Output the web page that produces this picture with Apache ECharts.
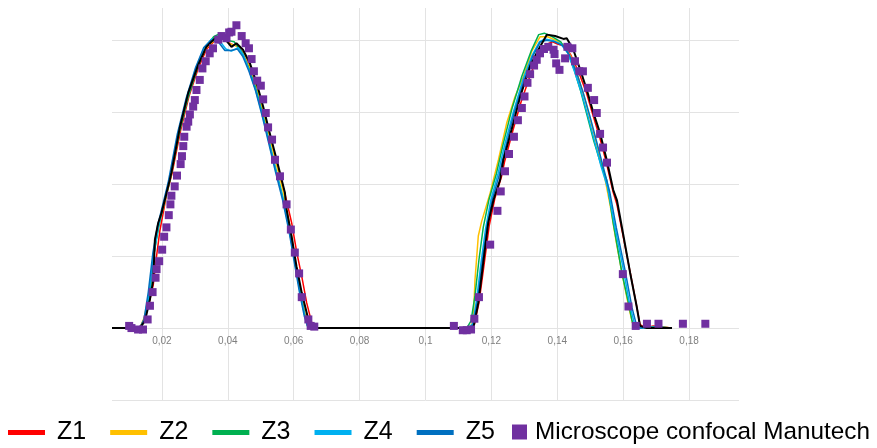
<!DOCTYPE html>
<html>
<head>
<meta charset="UTF-8">
<title>Profils</title>
<script src="https://cdn.jsdelivr.net/npm/echarts@6/dist/echarts.min.js"></script>
<style>
    html, body { margin: 0; padding: 0; background: #fff; }
    #main { width: 877px; height: 448px; }
</style>
</head>
<body>
<div id="main"></div>
<script>
// tick labels of the x axis
var xTicks = [0.02, 0.04, 0.06, 0.08, 0.1, 0.12, 0.14, 0.16, 0.18];

// profiles [x, height]
var z1 = [[0.005,0],[0.0134,0],[0.0145,0.1],[0.0160,0.3],[0.0175,0.6],[0.0185,1.0],[0.0195,1.35],[0.0205,1.6],[0.0215,1.85],[0.0232,2.15],[0.0258,2.75],[0.0283,3.22],[0.0312,3.62],[0.0337,3.88],[0.0362,4.0],[0.0387,4.02],[0.0410,3.95],[0.0430,3.92],[0.0449,3.82],[0.0470,3.6],[0.0490,3.35],[0.0510,3.02],[0.0530,2.65],[0.0550,2.28],[0.0575,1.85],[0.0595,1.45],[0.0610,1.05],[0.0625,0.72],[0.0640,0.35],[0.0655,0.08],[0.0665,0],[0.1135,0],[0.1148,0.05],[0.1162,0.35],[0.1178,0.9],[0.1193,1.42],[0.1210,1.8],[0.1230,2.1],[0.1240,2.32],[0.1265,2.75],[0.1290,3.15],[0.1320,3.55],[0.1345,3.8],[0.1370,3.95],[0.1385,3.98],[0.1400,3.95],[0.1420,3.92],[0.1440,3.8],[0.1465,3.55],[0.1487,3.28],[0.1508,2.95],[0.1528,2.65],[0.1548,2.3],[0.1568,1.9],[0.1580,1.72],[0.1600,1.25],[0.1620,0.78],[0.1638,0.35],[0.1650,0.05],[0.1665,0],[0.1690,0.03],[0.1747,0]];
var z2 = [[0.005,0],[0.0134,0],[0.0148,0.15],[0.0165,0.55],[0.0180,1.15],[0.0195,1.5],[0.0210,1.75],[0.0228,2.1],[0.0255,2.75],[0.0282,3.25],[0.0310,3.65],[0.0336,3.9],[0.0360,4.0],[0.0385,4.05],[0.0408,3.95],[0.0428,3.92],[0.0448,3.82],[0.0468,3.62],[0.0488,3.36],[0.0508,3.02],[0.0528,2.66],[0.0548,2.28],[0.0570,1.88],[0.0590,1.4],[0.0605,0.95],[0.0620,0.55],[0.0635,0.2],[0.0645,0.03],[0.0655,0],[0.1130,0],[0.1140,0.05],[0.1145,0.12],[0.1150,0.67],[0.1160,1.28],[0.1170,1.48],[0.1196,1.88],[0.1221,2.34],[0.1246,2.85],[0.1270,3.2],[0.1297,3.5],[0.1322,3.85],[0.1347,4.05],[0.1370,4.05],[0.1395,4.0],[0.1420,3.93],[0.1440,3.78],[0.1462,3.5],[0.1482,3.2],[0.1502,2.85],[0.1522,2.5],[0.1542,2.12],[0.1560,1.7],[0.1578,1.2],[0.1598,0.7],[0.1618,0.25],[0.1630,0.02],[0.1642,0],[0.1700,0.02],[0.1747,0]];
var z3 = [[0.005,0],[0.0134,0],[0.0150,0.12],[0.0165,0.5],[0.0178,1.05],[0.0192,1.42],[0.0206,1.7],[0.0225,2.05],[0.0254,2.72],[0.0280,3.2],[0.0309,3.62],[0.0334,3.9],[0.0358,4.05],[0.0380,4.1],[0.0400,4.0],[0.0420,3.98],[0.0442,3.85],[0.0464,3.62],[0.0484,3.36],[0.0504,3.02],[0.0524,2.64],[0.0544,2.25],[0.0566,1.85],[0.0586,1.4],[0.0602,0.98],[0.0617,0.58],[0.0632,0.22],[0.0642,0.03],[0.0652,0],[0.1125,0],[0.1138,0.1],[0.1150,0.45],[0.1162,0.95],[0.1175,1.4],[0.1192,1.78],[0.1215,2.15],[0.1235,2.55],[0.1262,3.05],[0.1292,3.5],[0.1320,3.85],[0.1343,4.08],[0.1360,4.1],[0.1385,4.05],[0.1410,3.98],[0.1432,3.82],[0.1450,3.6],[0.1470,3.3],[0.1490,2.95],[0.1510,2.6],[0.1530,2.3],[0.1549,2.06],[0.1569,1.46],[0.1595,0.77],[0.1615,0.35],[0.1625,0.12],[0.1632,0],[0.1700,0.02],[0.1747,0]];
var z4 = [[0.005,0],[0.0134,0],[0.0148,0.1],[0.0162,0.45],[0.0176,1.0],[0.0190,1.4],[0.0204,1.68],[0.0222,2.02],[0.0250,2.7],[0.0277,3.2],[0.0305,3.62],[0.0330,3.9],[0.0352,4.02],[0.0375,4.0],[0.0395,3.88],[0.0412,3.85],[0.0432,3.9],[0.0448,3.8],[0.0466,3.58],[0.0486,3.3],[0.0506,2.96],[0.0526,2.58],[0.0546,2.2],[0.0568,1.8],[0.0588,1.35],[0.0604,0.92],[0.0619,0.52],[0.0634,0.18],[0.0644,0.02],[0.0654,0],[0.1130,0],[0.1143,0.06],[0.1155,0.4],[0.1168,0.9],[0.1182,1.38],[0.1198,1.78],[0.1220,2.15],[0.1240,2.55],[0.1266,3.0],[0.1295,3.45],[0.1322,3.78],[0.1345,3.98],[0.1362,4.02],[0.1385,4.0],[0.1410,3.95],[0.1432,3.82],[0.1452,3.56],[0.1472,3.28],[0.1492,2.95],[0.1512,2.6],[0.1532,2.25],[0.1552,1.95],[0.1572,1.45],[0.1598,0.85],[0.1620,0.3],[0.1635,0.03],[0.1645,0],[0.1700,0.01],[0.1747,0]];
var z5 = [[0.005,0],[0.0134,0],[0.0147,0.12],[0.0160,0.5],[0.0174,1.05],[0.0188,1.42],[0.0202,1.68],[0.0220,2.02],[0.0248,2.7],[0.0275,3.2],[0.0303,3.62],[0.0328,3.9],[0.0350,4.0],[0.0372,3.98],[0.0392,3.86],[0.0410,3.86],[0.0430,3.88],[0.0446,3.78],[0.0465,3.57],[0.0485,3.3],[0.0505,2.95],[0.0525,2.57],[0.0545,2.18],[0.0567,1.78],[0.0587,1.33],[0.0603,0.9],[0.0618,0.5],[0.0633,0.16],[0.0643,0.02],[0.0653,0],[0.1132,0],[0.1145,0.05],[0.1158,0.4],[0.1172,0.92],[0.1186,1.4],[0.1202,1.78],[0.1223,2.12],[0.1243,2.52],[0.1268,2.98],[0.1297,3.42],[0.1325,3.78],[0.1348,3.98],[0.1368,4.0],[0.1392,3.98],[0.1415,3.93],[0.1436,3.8],[0.1458,3.55],[0.1478,3.27],[0.1498,2.95],[0.1518,2.6],[0.1538,2.25],[0.1558,1.9],[0.1578,1.4],[0.1604,0.82],[0.1626,0.28],[0.1640,0.03],[0.1652,0],[0.1700,0.01],[0.1747,0]];
// black profile (not in the legend)
var zRef = [[0.005,0],[0.0134,0],[0.0150,0.1],[0.0165,0.4],[0.0175,0.67],[0.0180,1.23],[0.0190,1.46],[0.0200,1.6],[0.0210,1.78],[0.0225,2.06],[0.0230,2.16],[0.0256,2.8],[0.0281,3.27],[0.0311,3.66],[0.0336,3.91],[0.0362,4.03],[0.0387,4.05],[0.0412,3.91],[0.0427,3.96],[0.0447,3.87],[0.0468,3.68],[0.0488,3.41],[0.0508,3.08],[0.0528,2.71],[0.0549,2.34],[0.0574,1.88],[0.0579,1.65],[0.0594,1.28],[0.0609,0.86],[0.0625,0.49],[0.0645,0.12],[0.0655,0],[0.1135,0],[0.1145,0],[0.1160,0.35],[0.1175,0.91],[0.1190,1.46],[0.1206,1.78],[0.1226,2.06],[0.1236,2.34],[0.1261,2.76],[0.1287,3.22],[0.1317,3.64],[0.1342,3.87],[0.1368,4.08],[0.1393,4.06],[0.1418,4.02],[0.1428,4.03],[0.1448,3.87],[0.1469,3.59],[0.1489,3.31],[0.1509,2.99],[0.1529,2.71],[0.1549,2.34],[0.1569,1.92],[0.1580,1.78],[0.1600,1.28],[0.1620,0.77],[0.1640,0.3],[0.1650,0.03],[0.1671,0],[0.1747,0]];
// confocal microscope points
var micro = [[0.0102,0.03],[0.0109,0.0],[0.0129,-0.02],[0.0144,-0.02],[0.0158,0.12],[0.0165,0.31],[0.0173,0.50],[0.0182,0.70],[0.0185,0.82],[0.0193,0.93],[0.0202,1.09],[0.0208,1.27],[0.0215,1.40],[0.0222,1.57],[0.0227,1.72],[0.0230,1.84],[0.0240,1.97],[0.0247,2.12],[0.0258,2.28],[0.0262,2.39],[0.0266,2.53],[0.0269,2.66],[0.0276,2.80],[0.0281,2.87],[0.0286,2.97],[0.0296,3.08],[0.0301,3.17],[0.0306,3.31],[0.0316,3.45],[0.0324,3.61],[0.0334,3.71],[0.0346,3.82],[0.0356,3.89],[0.0372,4.01],[0.0382,4.06],[0.0397,4.03],[0.0405,4.11],[0.0412,4.12],[0.0427,4.21],[0.0443,4.06],[0.0455,3.96],[0.0465,3.89],[0.0473,3.74],[0.0480,3.57],[0.0490,3.44],[0.0501,3.37],[0.0508,3.18],[0.0516,2.99],[0.0523,2.79],[0.0535,2.62],[0.0544,2.34],[0.0559,2.11],[0.0579,1.72],[0.0592,1.37],[0.0604,1.05],[0.0617,0.76],[0.0625,0.43],[0.0645,0.12],[0.0652,0.03],[0.0663,0.02],[0.1086,0.03],[0.1113,-0.03],[0.1125,-0.03],[0.1138,-0.02],[0.1148,0.13],[0.1162,0.43],[0.1196,1.16],[0.1218,1.63],[0.1228,1.90],[0.1241,2.18],[0.1253,2.42],[0.1268,2.66],[0.1280,2.89],[0.1292,3.06],[0.1300,3.22],[0.1309,3.41],[0.1317,3.53],[0.1329,3.65],[0.1337,3.73],[0.1347,3.82],[0.1359,3.88],[0.1372,3.91],[0.1388,3.87],[0.1391,3.81],[0.1396,3.68],[0.1406,3.59],[0.1423,3.75],[0.1430,3.91],[0.1445,3.89],[0.1453,3.71],[0.1466,3.57],[0.1477,3.57],[0.1492,3.34],[0.1511,3.17],[0.1519,2.99],[0.1529,2.70],[0.1538,2.51],[0.1550,2.30],[0.1598,0.75],[0.1615,0.30],[0.1637,0.03],[0.1671,0.06],[0.1706,0.06],[0.1780,0.06],[0.1848,0.06]];

var col = {
    z1: '#ff0000',
    z2: '#ffc000',
    z3: '#00b050',
    z4: '#00b0f0',
    z5: '#0070c0',
    ref: '#000000',
    micro: '#7030a0',
    grid: '#e3e3e3',
    label: '#7f7f7f'
};

var myChart = echarts.init(document.getElementById('main'));

function lineSerie(name, data, color, width, z) {
    return {
        name: name,
        type: 'line',
        xAxisIndex: 0,
        yAxisIndex: 0,
        data: data,
        symbol: 'none',
        showSymbol: false,
        z: z,
        itemStyle: { color: color },
        lineStyle: { color: color, width: width }
    };
}

function hiddenAxis(idx, min, max) {
    return {
        type: 'value', gridIndex: idx, min: min, max: max,
        axisLine: { show: false }, axisTick: { show: false }, axisLabel: { show: false },
        splitLine: { show: false }
    };
}

var legendText = { fontFamily: 'Liberation Sans', fontSize: 25, color: '#000' };

var option = {
    animation: false,
    legend: [
        {
            data: ['Z1', 'Z2', 'Z3', 'Z4', 'Z5'],
            left: 8,
            top: 420,
            padding: 0,
            icon: 'rect',
            itemWidth: 37,
            itemHeight: 5,
            itemGap: 24,
            textStyle: Object.assign({ padding: [0, 0, 0, 7] }, legendText)
        },
        {
            data: ['Microscope confocal Manutech'],
            left: 512,
            top: 420,
            padding: 0,
            icon: 'rect',
            itemWidth: 15,
            itemHeight: 15,
            textStyle: Object.assign({ padding: [0, 0, 0, 3] }, legendText, { fontSize: 24.3 })
        }
    ],
    grid: [
        // data grid
        { left: 112, right: 138, top: 8, bottom: 48 },
        // vertical grid lines
        { left: 96, right: 122, top: 8, bottom: 48 },
        // tick labels, bottom edge on the zero line
        { left: 96, right: 122, top: 300, bottom: 119.5 }
    ],
    xAxis: [
        hiddenAxis(0, 0.005, 0.195),
        {
            type: 'value', gridIndex: 1, min: 0, max: 0.2, interval: 0.02,
            axisLine: { show: false }, axisTick: { show: false }, axisLabel: { show: false },
            splitLine: {
                show: true,
                lineStyle: {
                    width: 1,
                    color: ['transparent', col.grid, col.grid, col.grid, col.grid, col.grid,
                        col.grid, col.grid, col.grid, col.grid, 'transparent']
                }
            }
        },
        {
            type: 'value', gridIndex: 2, min: 0, max: 0.2, interval: 0.02,
            position: 'bottom',
            axisLine: { show: false }, axisTick: { show: false },
            splitLine: { show: false },
            axisLabel: {
                margin: 8,
                fontFamily: 'Liberation Sans',
                fontSize: 10,
                color: col.label,
                formatter: function (v) {
                    var r = +v.toFixed(2);
                    if (xTicks.indexOf(r) < 0) return '';
                    return String(r).replace('.', ',');
                }
            }
        }
    ],
    yAxis: [
        {
            type: 'value', gridIndex: 0, min: -1, max: 4.45, interval: 1,
            axisLine: { show: false }, axisTick: { show: false }, axisLabel: { show: false },
            splitLine: {
                show: true,
                lineStyle: {
                    width: 1,
                    color: [col.grid, col.grid, col.grid, col.grid, col.grid, col.grid, 'transparent']
                }
            }
        },
        hiddenAxis(1, -1, 4.45),
        hiddenAxis(2, 0, 1)
    ],
    series: [
        lineSerie('Z1', z1, col.z1, 1.5, 2),
        lineSerie('Z2', z2, col.z2, 1.5, 2),
        lineSerie('Z3', z3, col.z3, 1.5, 2),
        lineSerie('Z4', z4, col.z4, 1.5, 2),
        lineSerie('Z5', z5, col.z5, 1.5, 2),
        lineSerie('Profil', zRef, col.ref, 2, 3),
        {
            name: 'Microscope confocal Manutech',
            type: 'scatter',
            xAxisIndex: 0,
            yAxisIndex: 0,
            data: micro,
            symbol: 'rect',
            symbolSize: 8,
            z: 4,
            itemStyle: { color: col.micro, opacity: 1 }
        }
    ]
};

myChart.setOption(option);
</script>
</body>
</html>
